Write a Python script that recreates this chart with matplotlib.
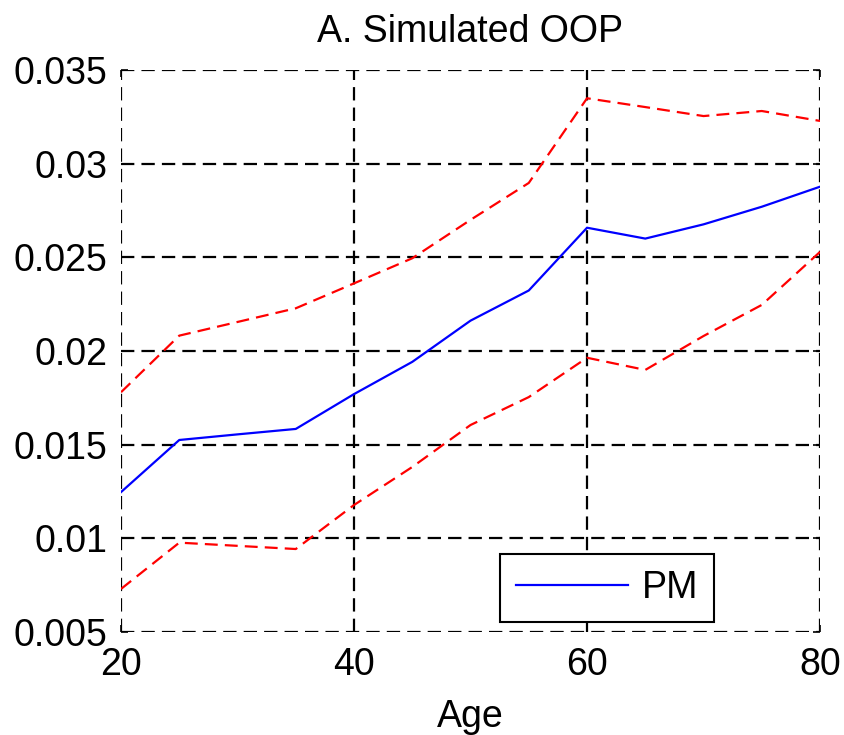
import matplotlib
matplotlib.use('Agg')
from matplotlib import pyplot as plt

plt.rcParams['font.family'] = ['Liberation Sans', 'DejaVu Sans']

# simulated out-of-pocket share by age, with upper / lower bands
ages = [20, 25, 30, 35, 40, 45, 50, 55, 60, 65, 70, 75, 80]
pm = [0.01247, 0.01525, 0.01555, 0.01584, 0.0177, 0.01942, 0.02162,
	0.02323, 0.02658, 0.02600, 0.02676, 0.0277, 0.02877]
upper = [0.0178, 0.02082, 0.02155, 0.02228, 0.02361, 0.02495, 0.0270,
	0.02897, 0.03349, 0.03302, 0.03254, 0.03281, 0.03228]
lower = [0.0073, 0.00977, 0.0096, 0.00943, 0.01178, 0.01381, 0.01605,
	0.01754, 0.01964, 0.01899, 0.0208, 0.02246, 0.02529]

xticks = [20, 40, 60, 80]
yticks = [0.005, 0.01, 0.015, 0.02, 0.025, 0.03, 0.035]
yticklabels = ['0.005', '0.01', '0.015', '0.02', '0.025', '0.03', '0.035']

fs = 27

fig = plt.figure(figsize=(8.44, 7.35), dpi=100)
ax = fig.add_axes([0.1434, 0.1401, 0.8282, 0.7647])

ax.plot(ages, pm, color='#0000ff', lw=1.6, label='PM', zorder=3)
ax.plot(ages, upper, color='#ff0000', lw=1.6, linestyle=(0, (5.8, 3.2)), zorder=3)
ax.plot(ages, lower, color='#ff0000', lw=1.6, linestyle=(0, (5.8, 3.2)), zorder=3)

ax.set_xlim(20, 80)
ax.set_ylim(0.005, 0.035)
ax.set_xticks(xticks)
ax.set_yticks(yticks)
ax.set_yticklabels(yticklabels)

ax.grid(True, color='black', lw=1.6, linestyle=(0, (6, 3.2)))
for s in ax.spines.values():
	s.set_visible(False)

ax.tick_params(direction='in', length=5, width=1.2, labelsize=fs,
	top=True, right=True)
ax.tick_params(axis='x', pad=11)
ax.tick_params(axis='y', pad=10)

ax.set_title('A. Simulated OOP', fontsize=fs, pad=20)
ax.set_xlabel('Age', fontsize=fs, labelpad=11)

leg = ax.legend(loc='lower right', bbox_to_anchor=(0.848, 0.018),
	borderaxespad=0, fontsize=fs, handlelength=3.0, handletextpad=0.35,
	fancybox=False, framealpha=1, edgecolor='black', borderpad=0.42)
leg.get_frame().set_linewidth(1.5)

fig.savefig('out.png', dpi=100)
